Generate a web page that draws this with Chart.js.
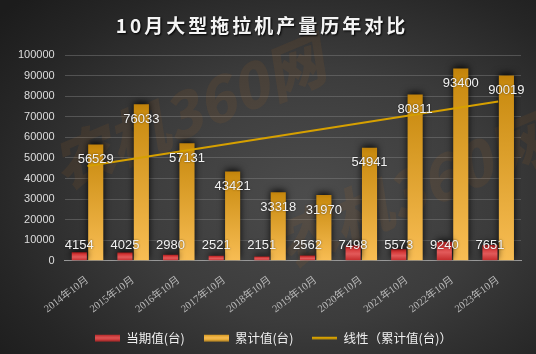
<!DOCTYPE html>
<html>
<head>
<meta charset="utf-8">
<script src="https://cdn.jsdelivr.net/npm/chart.js@4.4.1/dist/chart.umd.min.js"></script>
<style>
  html, body { margin: 0; padding: 0; }
  body { width: 536px; height: 354px; overflow: hidden; }
  #wrap {
    position: relative; width: 536px; height: 354px;
    background: radial-gradient(ellipse 75% 80% at 58% 55%, #4c4c4c 0%, #3c3c3c 45%, #262626 80%, #1c1c1c 100%);
  }
  #title {
    position: absolute; left: 0; top: 11px; width: 536px; text-align: center;
    font-family: "Noto Sans CJK SC", sans-serif; font-weight: 700; font-size: 19px;
    letter-spacing: 3px; line-height: 28px; color: #f4f4f4;
    text-shadow: 1px 1px 2px #000; text-indent: -12px;
  }
  canvas { position: absolute; left: 0; top: 0; }
</style>
</head>
<body>
<div id="wrap">
  <canvas id="c" width="536" height="354"></canvas>
  <div id="title">10月大型拖拉机产量历年对比</div>
</div>
<script>
// ---- data ----
const categories = ['2014年10月','2015年10月','2016年10月','2017年10月','2018年10月','2019年10月','2020年10月','2021年10月','2022年10月','2023年10月'];
const currentValues = [4154, 4025, 2980, 2521, 2151, 2562, 7498, 5573, 9240, 7651];
const cumulativeValues = [56529, 76033, 57131, 43421, 33318, 31970, 54941, 80811, 93400, 90019];
const trendStart = 46100;  // read at 2014年10月
const trendEnd = 77400;    // read at 2023年10月
const seriesNames = ['当期值(台)', '累计值(台)', '线性（累计值(台)）'];
const yMin = 0, yMax = 100000, yStep = 10000;
const watermarkText = '农机360网';

function barGradient(ctx, stops) {
  const chart = ctx.chart;
  const ys = chart.scales && chart.scales.y;
  if (!chart.chartArea || !ys) return stops[stops.length - 1][1];
  const top = ys.getPixelForValue(ctx.raw);
  const bottom = ys.getPixelForValue(0);
  if (!isFinite(top) || !isFinite(bottom) || top === bottom) return stops[stops.length - 1][1];
  const g = chart.ctx.createLinearGradient(0, top, 0, bottom);
  stops.forEach(s => g.addColorStop(s[0], s[1]));
  return g;
}
const redStops = [[0, '#a81a1a'], [0.25, '#d63a3a'], [0.55, '#e25a5a'], [1, '#c22828']];
const goldStops = [[0, '#c1820a'], [0.05, '#c98b10'], [1, '#f8bd54']];

function legendSwatch(kind) {
  const cv = document.createElement('canvas');
  cv.width = 25; cv.height = 8;
  const c = cv.getContext('2d');
  if (kind === 'line') {
    c.fillStyle = '#d6a000';
    c.fillRect(0, 3, 25, 2.5);
  } else {
    const g = c.createLinearGradient(0, 0, 0, 8);
    if (kind === 'red') { g.addColorStop(0, '#a81a1a'); g.addColorStop(0.5, '#e05656'); g.addColorStop(1, '#b82222'); }
    else { g.addColorStop(0, '#c98b10'); g.addColorStop(0.5, '#f8bd54'); g.addColorStop(1, '#d09418'); }
    c.fillStyle = g;
    c.fillRect(0, 1, 25, 6.5);
  }
  return cv;
}
const swatches = [legendSwatch('red'), legendSwatch('gold'), legendSwatch('line')];

const watermarkPlugin = {
  id: 'watermark',
  beforeDatasetsDraw(chart) {
    const {ctx, chartArea: a} = chart;
    ctx.save();
    ctx.fillStyle = 'rgba(190, 110, 30, 0.10)';
    ctx.font = 'italic 900 60px "Noto Sans CJK SC", sans-serif';
    ctx.textAlign = 'center';
    ctx.textBaseline = 'middle';
    const spots = [[0.27, 0.28], [0.76, 0.66]];
    spots.forEach(([fx, fy]) => {
      ctx.save();
      ctx.translate(a.left + fx * (a.right - a.left), a.top + fy * (a.bottom - a.top));
      ctx.rotate(-0.40);
      ctx.fillText(watermarkText, 0, 0);
      ctx.restore();
    });
    ctx.restore();
  }
};

const shadowPlugin = {
  id: 'barShadow',
  beforeDatasetDraw(chart, args) {
    if (chart.data.datasets[args.index].type === 'line') return;
    const ctx = chart.ctx;
    ctx.save();
    ctx.shadowColor = 'rgba(0,0,0,0.85)';
    ctx.shadowBlur = 7;
    ctx.shadowOffsetX = 0;
    ctx.shadowOffsetY = -2;
  },
  afterDatasetDraw(chart, args) {
    if (chart.data.datasets[args.index].type === 'line') return;
    chart.ctx.restore();
  }
};

const legendShiftPlugin = {
  id: 'legendShift',
  afterLayout(chart) {
    if (chart.legend) { chart.legend.left += 9; chart.legend.right += 9; }
  }
};

const labelPlugin = {
  id: 'valueLabels',
  afterDatasetsDraw(chart) {
    const ctx = chart.ctx;
    const ys = chart.scales.y;
    ctx.save();
    ctx.font = '13px "Liberation Sans", sans-serif';
    ctx.fillStyle = '#f2f2f2';
    ctx.textAlign = 'center';
    ctx.textBaseline = 'middle';
    ctx.shadowColor = 'rgba(0,0,0,0.6)';
    ctx.shadowBlur = 2;
    const m0 = chart.getDatasetMeta(0);
    m0.data.forEach((bar, i) => {
      ctx.fillText(String(currentValues[i]), bar.x, ys.getPixelForValue(0) - 15);
    });
    const m1 = chart.getDatasetMeta(1);
    m1.data.forEach((bar, i) => {
      ctx.fillText(String(cumulativeValues[i]), bar.x, bar.y + 15);
    });
    ctx.restore();
  }
};

new Chart(document.getElementById('c'), {
  data: {
    labels: categories,
    datasets: [
      {
        type: 'bar', label: seriesNames[0], data: currentValues, order: 1,
        backgroundColor: ctx => barGradient(ctx, redStops),
        categoryPercentage: 0.72, barPercentage: 0.92
      },
      {
        type: 'bar', label: seriesNames[1], data: cumulativeValues, order: 1,
        backgroundColor: ctx => barGradient(ctx, goldStops),
        categoryPercentage: 0.72, barPercentage: 0.92
      },
      {
        type: 'line', label: seriesNames[2], order: 0,
        data: [{x: categories[0], y: trendStart}, {x: categories[categories.length - 1], y: trendEnd}],
        borderColor: '#d6a000', borderWidth: 2, pointRadius: 0, fill: false, tension: 0
      }
    ]
  },
  options: {
    responsive: false,
    animation: false,
    devicePixelRatio: 1,
    layout: { padding: { top: 55, left: 8, right: 15, bottom: 0 } },
    plugins: {
      title: { display: false },
      tooltip: { enabled: false },
      legend: {
        position: 'bottom',
        labels: {
          usePointStyle: true,
          pointStyleWidth: 25,
          boxHeight: 8,
          padding: 19,
          color: '#efefef',
          font: { family: '"Noto Sans CJK SC", sans-serif', size: 12.5 },
          generateLabels(chart) {
            return chart.data.datasets.map((ds, i) => ({
              text: ds.label, datasetIndex: i, pointStyle: swatches[i],
              fillStyle: 'transparent', strokeStyle: 'transparent', lineWidth: 0,
              fontColor: '#efefef', hidden: false
            }));
          }
        }
      }
    },
    scales: {
      x: {
        grid: { display: false },
        border: { display: true, color: '#9a9a9a', width: 1 },
        afterFit(scale) {
          scale.height -= 8;
          scale._computeLabelArea = () => undefined; // let rotated labels overflow the shrunken box
        },
        ticks: {
          color: '#b8b8b8', maxRotation: 37, minRotation: 37, padding: 5,
          font: { family: '"Liberation Serif", "Noto Sans CJK SC", serif', size: 10.5 }
        }
      },
      y: {
        min: yMin, max: yMax,
        grid: { color: 'rgba(130,130,130,0.45)', drawTicks: false, lineWidth: 1 },
        border: { display: false },
        ticks: {
          stepSize: yStep, padding: 10, color: '#dddddd',
          font: { family: '"Liberation Sans", sans-serif', size: 11 },
          callback: v => String(v)
        }
      }
    }
  },
  plugins: [watermarkPlugin, shadowPlugin, labelPlugin, legendShiftPlugin]
});
</script>
</body>
</html>
